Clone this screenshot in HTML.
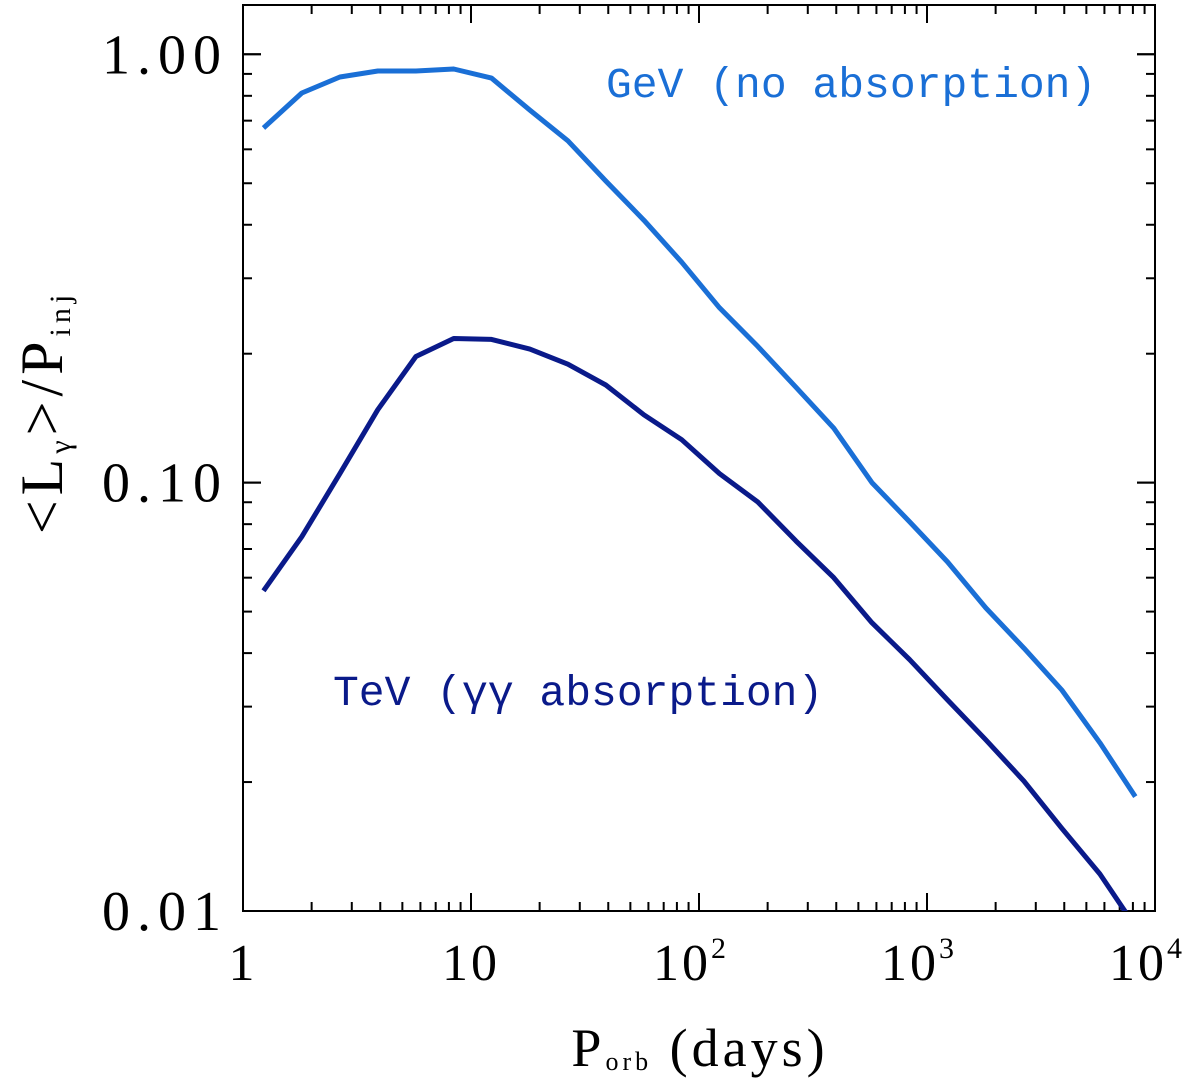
<!DOCTYPE html>
<html><head><meta charset="utf-8"><style>
html,body{margin:0;padding:0;background:#fff;}
svg{display:block;}
text{font-family:"Liberation Serif","DejaVu Serif",serif;fill:#000;}
text.mono{font-family:"Liberation Mono","DejaVu Sans Mono",monospace;}
</style></head><body>
<svg id="chart" width="1200" height="1084" viewBox="0 0 1200 1084">
<g id="axes"></g>
<g id="series"></g>
<text x="700" y="1066" font-size="54" letter-spacing="4" text-anchor="middle">P<tspan font-size="26" dy="4">orb</tspan><tspan dy="-4"> (days)</tspan></text>
<text transform="translate(62,412) rotate(-90)" font-size="60" letter-spacing="5" text-anchor="middle">&lt;L<tspan font-size="30" dy="8">γ</tspan><tspan dy="-8">&gt;/P</tspan><tspan font-size="30" dy="8">inj</tspan></text>
<text class="mono" x="606" y="97" font-size="43" style="fill:#1a6fd6">GeV (no absorption)</text>
<text class="mono" x="333" y="705" font-size="43" style="fill:#0a1a8a">TeV (γγ absorption)</text>
</svg>
<script>
const periods=[1.23,1.81,2.66,3.9,5.73,8.4,12.3,18.1,26.6,39,57.3,84,123,181,266,390,573,840,1230,1810,2660,3900,5730,8200];
const gevValues=[0.673,0.812,0.885,0.914,0.914,0.924,0.880,0.741,0.628,0.506,0.410,0.327,0.256,0.208,0.167,0.134,0.100,0.081,0.0653,0.0510,0.0411,0.0328,0.0247,0.0185];
const tevValues=[0.0559,0.0748,0.105,0.148,0.197,0.217,0.216,0.205,0.189,0.169,0.144,0.126,0.105,0.0901,0.0731,0.060,0.0471,0.0386,0.0311,0.0251,0.0201,0.0156,0.0122,0.0092];
const yTickValues=[1,0.1,0.01];
const yTickLabels=["1.00","0.10","0.01"];
const xTickValues=[1,10,100,1000,10000];
const xTickLabels=[["1",""],["10",""],["10","2"],["10","3"],["10","4"]];
const NS="http://www.w3.org/2000/svg";
const L=243,R=1155,T=5,B=911;
const xs=v=>L+(Math.log10(v))*(R-L)/4;
const ys=v=>B-(Math.log10(v)+2)*(B-54.3)/2;
const axes=document.getElementById('axes');
function mk(tag,attrs,parent){const e=document.createElementNS(NS,tag);for(const k in attrs)e.setAttribute(k,attrs[k]);parent.appendChild(e);return e;}
const frame=mk('rect',{x:L,y:T,width:R-L,height:B-T,fill:'none',stroke:'#000','stroke-width':2},axes);


for(let d=0;d<4;d++){for(let m=1;m<=10;m++){const v=Math.pow(10,d)*m;if(m===1&&d>0)continue;const x=xs(v);const len=(m===1||m===10)?18:9;
const t1=mk('line',{x1:x,y1:B,x2:x,y2:B-len,stroke:'#000','stroke-width':2},axes);


const t2=mk('line',{x1:x,y1:T,x2:x,y2:T+len,stroke:'#000','stroke-width':2},axes);

}}
for(let d=-2;d<1;d++){for(let m=1;m<=10;m++){const v=Math.pow(10,d)*m;const y=ys(v);if(y<T)continue;const len=(m===1||m===10)?18:9;
const t1=mk('line',{x1:L,y1:y,x2:L+len,y2:y,stroke:'#000','stroke-width':2},axes);


const t2=mk('line',{x1:R,y1:y,x2:R-len,y2:y,stroke:'#000','stroke-width':2},axes);

}}
yTickValues.forEach((v,i)=>{const t=mk('text',{x:228,y:ys(v)+19,'font-size':56,'letter-spacing':7,'text-anchor':'end'},axes);t.textContent=yTickLabels[i];

});
xTickValues.forEach((v,i)=>{const t=mk('text',{x:xs(v),y:980,'font-size':52,'letter-spacing':3,'text-anchor':'middle'},axes);t.textContent=xTickLabels[i][0];
if(xTickLabels[i][1]){const s=mk('tspan',{'font-size':30,dy:-22},t);s.textContent=xTickLabels[i][1];t.setAttribute('x',xs(v)-8);}

});
const ser=document.getElementById('series');
const clip=mk('clipPath',{id:'pc'},ser);mk('rect',{x:L,y:T,width:R-L,height:B-T},clip);
function line(vals,color,name){const d=periods.map((p,i)=>(i?'L':'M')+xs(p).toFixed(1)+','+ys(vals[i]).toFixed(1)).join('');
const p=mk('path',{d:d,fill:'none',stroke:color,'stroke-width':5,'stroke-linejoin':'round','clip-path':'url(#pc)'},ser);

}
line(gevValues,'#1a6fd6','gev-line');
line(tevValues,'#0a1a8a','tev-line');
</script>
</body></html>
